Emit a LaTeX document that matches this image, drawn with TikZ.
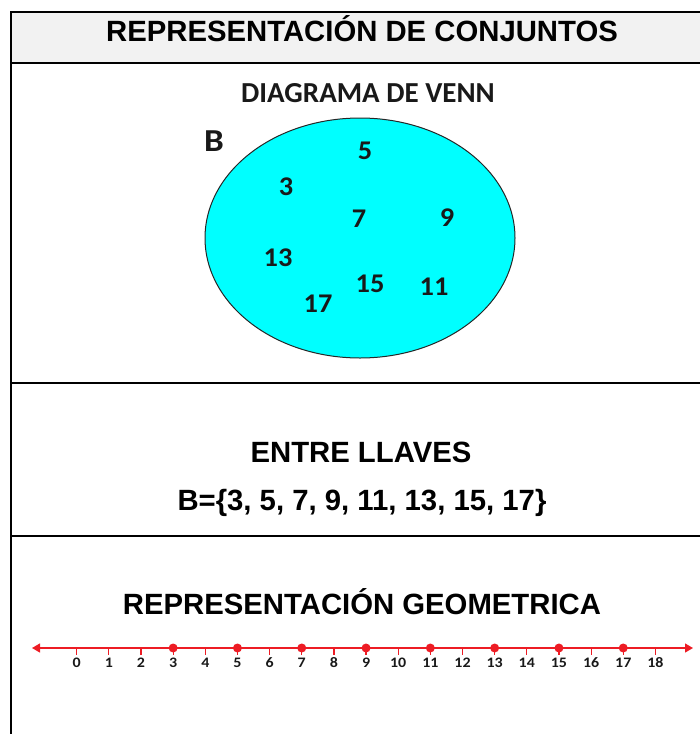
\documentclass[tikz,border=0pt]{standalone}
\usepackage{fontspec}
\setmainfont{Liberation Sans}
\newfontfamily\calib{Carlito}
\usetikzlibrary{arrows.meta}
\definecolor{nlred}{RGB}{237,28,36}
\definecolor{hdrgray}{RGB}{242,242,242}
\definecolor{venncyan}{RGB}{0,255,255}
\definecolor{darktxt}{RGB}{25,25,25}
\begin{document}
\begin{tikzpicture}[x=1pt,y=-1pt,
  rule/.style={line width=2pt,black},
  heading/.style={font=\fontsize{29.3}{32}\selectfont\bfseries,inner sep=0pt,anchor=base},
  vennnum/.style={font=\calib\fontsize{27}{28}\selectfont\bfseries,text=darktxt,inner sep=0pt,xscale=1.05},
  ticklbl/.style={font=\calib\fontsize{14.5}{16}\selectfont\bfseries,text=darktxt,inner sep=0pt,anchor=base,xscale=1.1},
  elemdot/.style={circle,fill=nlred,inner sep=0pt,minimum size=9pt}]
\useasboundingbox (0,0) rectangle (700,734);
% header band
\fill[hdrgray] (11,12) rectangle (700,63);
% table rules
\draw[rule] (11,12) -- (700,12);
\draw[rule] (11,63) -- (700,63);
\draw[rule] (11,383) -- (700,383);
\draw[rule] (11,535.5) -- (700,535.5);
\draw[rule] (11,11) -- (11,734);
% headings
\node[heading] (title) at (362,41.5) {REPRESENTACIÓN DE CONJUNTOS};
\node[font=\calib\fontsize{29}{32}\selectfont\bfseries,text=darktxt,inner sep=0pt,anchor=base] (venntitle) at (368,102) {DIAGRAMA DE VENN};
% Venn ellipse
\draw[fill=venncyan,draw=black!85,line width=1pt] (360,238) ellipse [x radius=155, y radius=120];
\node[font=\calib\fontsize{32}{34}\selectfont\bfseries,text=darktxt,inner sep=0pt,xscale=1.1] (setB) at (214,141) {B};
\node[vennnum] (v5) at (365,151) {5};
\node[vennnum] (v3) at (286,187) {3};
\node[vennnum] (v7) at (359,219) {7};
\node[vennnum] (v9) at (447,218) {9};
\node[vennnum] (v13) at (278,258) {13};
\node[vennnum] (v15) at (370,284) {15};
\node[vennnum] (v11) at (434,287) {11};
\node[vennnum] (v17) at (318,304) {17};
% braces
\node[heading] (llaves) at (361,462.5) {ENTRE LLAVES};
\node[heading] (setlist) at (362,510.5) {B=\{3, 5, 7, 9, 11, 13, 15, 17\}};
% geometric
\node[heading] (geom) at (362,614.5) {REPRESENTACIÓN GEOMETRICA};
\coordinate (lend) at (32,648);
\coordinate (rend) at (693,648);
\draw[nlred,line width=1.3pt,{Triangle[length=8pt,width=9pt]}-{Triangle[length=8pt,width=9pt]}] (lend) -- (rend);
\foreach \i in {0,...,18}{
  \draw[nlred,line width=1.2pt] ({76.7+32.15*\i},648) -- ({76.7+32.15*\i},655);
  \node[ticklbl] (t\i) at ({76.7+32.15*\i},667.3) {\i};
}
\foreach \i in {3,5,...,17}{
  \node[elemdot] (d\i) at ({76.7+32.15*\i},648) {};
}
\end{tikzpicture}
\end{document}
